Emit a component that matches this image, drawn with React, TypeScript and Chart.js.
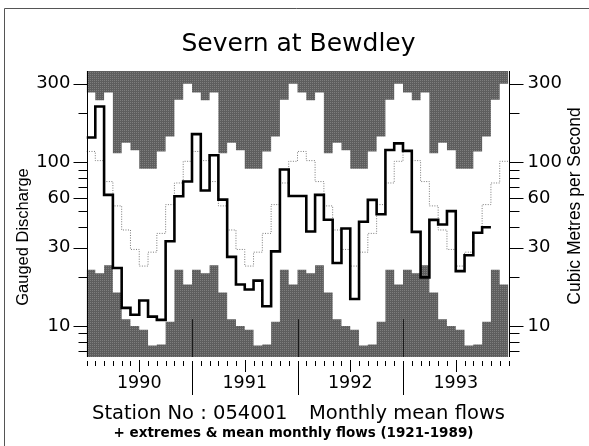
import React, { useEffect, useRef } from 'react';
import { Chart, registerables } from 'chart.js';

Chart.register(...registerables);

// ---------------- data ----------------
const yearLabels = ['1990', '1991', '1992', '1993'];
const flows1990 = [141, 218, 63, 22.6, 12.9, 11.7, 14.3, 11.4, 10.9, 32.9, 61.8, 76];
const flows1991 = [148, 67, 110, 59, 26.4, 17.9, 16.7, 18.9, 13.2, 28.5, 90, 62];
const flows1992 = [62, 37.7, 63, 44.5, 24.2, 39.3, 14.6, 43.2, 58.8, 48, 118.5, 130];
const flows1993 = [117, 37.5, 19.8, 44.4, 41.6, 50.2, 21.6, 27, 37, 40];
const maxMonthly = [265, 238, 265, 113, 131, 118, 91, 91, 116, 143, 240, 300];
const minMonthly = [22, 21, 23.5, 16, 11, 10, 9.5, 7.6, 7.7, 10.6, 22, 17.9];
const meanMonthly = [116, 102, 76, 54, 38.5, 29.3, 23.2, 28.2, 36.7, 55, 74.5, 101];
const labelledTicks = [10, 30, 60, 100, 300];
const minorTicks = [7, 8, 9, 20, 40, 50, 70, 80, 90, 200];
const yMin = 6.47;
const yMax = 359;

const monthsShown = yearLabels.length * 12;
const actualFlows = [...flows1990, ...flows1991, ...flows1992, ...flows1993];
const repeatYearly = (clim: number[]) =>
  Array.from({ length: monthsShown }, (_, k) => clim[k % 12]);
const stepPoints = (values: number[]) => {
  const pts = values.map((v, i) => ({ x: i, y: v }));
  pts.push({ x: values.length, y: values[values.length - 1] });
  return pts;
};

const SANS = '"DejaVu Sans", sans-serif';
const HELV = '"Liberation Sans", Arial, sans-serif';

const decor = {
  id: 'decor',
  afterDatasetsDraw(chart: any) {
    const { ctx, chartArea: a, scales } = chart;
    const xs = scales.x;
    const ys = scales.y;
    ctx.save();
    ctx.strokeStyle = '#1a1a1a';
    ctx.lineWidth = 1;
    // year boundary marks inside the bottom band
    for (let k = 12; k < monthsShown; k += 12) {
      const px = Math.round(xs.getPixelForValue(k)) + 0.5;
      ctx.beginPath();
      ctx.moveTo(px, ys.getPixelForValue(11));
      ctx.lineTo(px, a.bottom);
      ctx.stroke();
    }
    // axis lines
    ctx.strokeStyle = '#000';
    ctx.beginPath();
    ctx.moveTo(Math.round(a.left) + 0.5, a.top);
    ctx.lineTo(Math.round(a.left) + 0.5, a.bottom);
    ctx.moveTo(Math.round(a.right) + 0.5, a.top);
    ctx.lineTo(Math.round(a.right) + 0.5, a.bottom);
    ctx.stroke();
    ctx.restore();
  },
  afterDraw(chart: any) {
    const { ctx, chartArea: a, scales } = chart;
    const xs = scales.x;
    const ys = scales.y;
    ctx.save();
    ctx.strokeStyle = '#000';
    ctx.lineWidth = 1;
    // y tick marks, both sides
    const L = Math.round(a.left) + 0.5;
    const R = Math.round(a.right) + 0.5;
    ctx.beginPath();
    labelledTicks.forEach((v) => {
      const py = Math.round(ys.getPixelForValue(v)) + 0.5;
      ctx.moveTo(L - 14, py); ctx.lineTo(L, py);
      ctx.moveTo(R, py); ctx.lineTo(R + 14, py);
    });
    minorTicks.forEach((v) => {
      const py = Math.round(ys.getPixelForValue(v)) + 0.5;
      ctx.moveTo(L - 9, py); ctx.lineTo(L, py);
      ctx.moveTo(R, py); ctx.lineTo(R + 10, py);
    });
    ctx.stroke();
    // x tick marks
    ctx.beginPath();
    for (let k = 0; k <= monthsShown; k++) {
      const px = Math.round(xs.getPixelForValue(k)) + 0.5;
      if (k % 12 === 0 && k > 0 && k < monthsShown) {
        ctx.moveTo(px, a.bottom + 4); ctx.lineTo(px, a.bottom + 38);
      } else if (k % 12 === 6) {
        ctx.moveTo(px, a.bottom + 3); ctx.lineTo(px, a.bottom + 15);
      } else {
        ctx.moveTo(px, a.bottom + 4); ctx.lineTo(px, a.bottom + 9);
      }
    }
    ctx.stroke();

    // outer frame
    ctx.strokeStyle = '#555';
    ctx.beginPath();
    ctx.moveTo(4.5, 8.5); ctx.lineTo(589, 8.5);
    ctx.moveTo(4.5, 8.5); ctx.lineTo(4.5, 446);
    ctx.stroke();

    // texts
    ctx.fillStyle = '#000';
    ctx.textBaseline = 'alphabetic';
    ctx.font = `25px ${SANS}`;
    ctx.textAlign = 'center';
    ctx.fillText('Severn at Bewdley', 298.5, 51);

    ctx.font = `19.5px ${SANS}`;
    ctx.textAlign = 'left';
    ctx.fillText('Station No : 054001', 92, 419);
    ctx.textAlign = 'right';
    ctx.fillText('Monthly mean flows', 505, 419);

    ctx.font = `bold 13.5px ${SANS}`;
    ctx.textAlign = 'center';
    ctx.fillText('+ extremes & mean monthly flows (1921-1989)', 293.5, 436.5);

    ctx.textBaseline = 'middle';
    ctx.font = `16.5px ${HELV}`;
    ctx.save();
    ctx.translate(23, 237);
    ctx.rotate(-Math.PI / 2);
    ctx.fillText('Gauged Discharge', 0, 0);
    ctx.restore();
    ctx.font = `17.5px ${HELV}`;
    ctx.save();
    ctx.translate(575, 206);
    ctx.rotate(-Math.PI / 2);
    ctx.fillText('Cubic Metres per Second', 0, 0);
    ctx.restore();

    ctx.restore();
  },
};

export default function App() {
  const ref = useRef<HTMLCanvasElement>(null);

  useEffect(() => {
    const canvas = ref.current;
    if (!canvas) return;

    // halftone-like grey: dark base with sparse light dots
    const pc = document.createElement('canvas');
    pc.width = 2;
    pc.height = 2;
    const pctx = pc.getContext('2d')!;
    pctx.fillStyle = '#5e5e5e';
    pctx.fillRect(0, 0, 2, 2);
    pctx.fillStyle = '#7e7e7e';
    pctx.fillRect(0, 0, 1, 1);
    const shade = canvas.getContext('2d')!.createPattern(pc, 'repeat');

    const yAxis = (position: 'left' | 'right', width: number, padding: number) => ({
      type: 'logarithmic' as const,
      position,
      min: yMin,
      max: yMax,
      grid: { display: false, drawTicks: false },
      border: { display: false },
      afterBuildTicks: (s: any) => {
        s.ticks = [...labelledTicks, ...minorTicks]
          .sort((p, q) => p - q)
          .map((v) => ({ value: v }));
      },
      ticks: {
        autoSkip: false,
        padding,
        color: '#000',
        font: { family: SANS, size: 18 },
        callback: (v: any) => (labelledTicks.includes(Number(v)) ? String(v) : ''),
      },
      afterFit: (s: any) => {
        s.width = width;
      },
    });

    const chart = new Chart(canvas, {
      type: 'line',
      data: {
        datasets: [
          {
            label: 'Monthly mean flows',
            data: stepPoints(actualFlows),
            stepped: 'before',
            borderColor: '#000',
            borderWidth: 2.6,
            pointRadius: 0,
            fill: false,
            order: 0,
          },
          {
            label: 'Mean monthly flows 1921-1989',
            data: stepPoints(repeatYearly(meanMonthly)),
            stepped: 'before',
            borderColor: '#7a7a7a',
            borderWidth: 1,
            borderDash: [1, 1.5],
            pointRadius: 0,
            fill: false,
            order: 1,
          },
          {
            label: 'Maximum',
            data: stepPoints(repeatYearly(maxMonthly)),
            stepped: 'before',
            borderColor: 'rgba(0,0,0,0)',
            borderWidth: 0,
            backgroundColor: shade as any,
            pointRadius: 0,
            fill: 'end',
            order: 2,
          },
          {
            label: 'Minimum',
            data: stepPoints(repeatYearly(minMonthly)),
            stepped: 'before',
            borderColor: 'rgba(0,0,0,0)',
            borderWidth: 0,
            backgroundColor: shade as any,
            pointRadius: 0,
            fill: 'start',
            order: 3,
          },
        ],
      },
      options: {
        responsive: false,
        animation: false,
        devicePixelRatio: 1,
        layout: { padding: { top: 71, left: 0, right: 0, bottom: 0 } },
        plugins: {
          legend: { display: false },
          tooltip: { enabled: false },
          title: { display: false },
        },
        scales: {
          x: {
            type: 'linear',
            position: 'bottom',
            min: 0,
            max: monthsShown,
            grid: { display: false, drawTicks: false },
            border: { display: false },
            afterBuildTicks: (s: any) => {
              s.ticks = Array.from({ length: monthsShown + 1 }, (_, k) => ({ value: k }));
            },
            ticks: {
              autoSkip: false,
              maxRotation: 0,
              minRotation: 0,
              padding: 16,
              color: '#000',
              font: { family: SANS, size: 17.5 },
              callback: (v: any) => {
                const k = Number(v);
                return k % 12 === 6 ? yearLabels[(k - 6) / 12] : '';
              },
            },
            afterFit: (s: any) => {
              s.height = 89;
            },
          },
          y: yAxis('left', 86.5, 16) as any,
          y2: yAxis('right', 80.5, 19) as any,
        },
      },
      plugins: [decor],
    });

    return () => chart.destroy();
  }, []);

  return (
    <div style={{ position: 'absolute', left: 0, top: 0, width: 589, height: 446, background: '#fff' }}>
      <canvas ref={ref} width={589} height={446} style={{ display: 'block' }} />
    </div>
  );
}
